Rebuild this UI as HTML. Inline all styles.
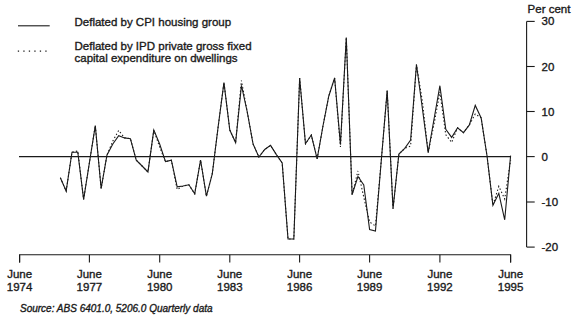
<!DOCTYPE html>
<html><head><meta charset="utf-8"><style>
html,body{margin:0;padding:0;background:#fff;}
body{width:576px;height:322px;overflow:hidden;position:relative;}
svg{position:absolute;left:0;top:0;}
text{font-family:"Liberation Sans",sans-serif;font-size:11.5px;fill:#1a1a1a;stroke:#1a1a1a;stroke-width:0.35px;}
</style></head><body>
<svg width="576" height="322" viewBox="0 0 576 322">
<g stroke="#1a1a1a" stroke-width="1.1" fill="none">
<line x1="19" y1="156.6" x2="510.8" y2="156.6"/>
<polyline points="19.6,262.5 19.6,254.7 510.6,254.7 510.6,262.5"/>
<line x1="19.6" y1="254.7" x2="19.6" y2="262.5"/><line x1="89.4" y1="254.7" x2="89.4" y2="262.5"/><line x1="159.7" y1="254.7" x2="159.7" y2="262.5"/><line x1="229.8" y1="254.7" x2="229.8" y2="262.5"/><line x1="299.6" y1="254.7" x2="299.6" y2="262.5"/><line x1="369.6" y1="254.7" x2="369.6" y2="262.5"/><line x1="439.9" y1="254.7" x2="439.9" y2="262.5"/><line x1="510.6" y1="254.7" x2="510.6" y2="262.5"/>
<line x1="526.6" y1="21.4" x2="526.6" y2="247.1"/>
<line x1="526.6" y1="21.4" x2="534.7" y2="21.4"/><line x1="526.6" y1="66.5" x2="534.7" y2="66.5"/><line x1="526.6" y1="111.5" x2="534.7" y2="111.5"/><line x1="526.6" y1="156.6" x2="534.7" y2="156.6"/><line x1="526.6" y1="202" x2="534.7" y2="202"/><line x1="526.6" y1="247.1" x2="534.7" y2="247.1"/>
<line x1="18" y1="25.8" x2="49.7" y2="25.8"/>
</g>
<g stroke="#1a1a1a" stroke-width="1.1" fill="none" stroke-linejoin="miter">
<polyline points="60.34,177.8 66.16,191.0 71.98,152.2 77.80,151.0 83.62,199.4 89.44,162.5 95.29,125.6 101.14,188.5 106.99,155.0 112.84,141.0 118.69,130.4 124.55,137.9 130.40,138.7 136.25,160.2 142.10,166.0 147.95,172.0 153.80,130.1 159.65,147.0 165.50,161.6 171.34,160.2 177.19,189.5 183.03,186.0 188.88,184.8 194.73,193.7 200.57,160.0 206.42,196.2 212.26,174.0 218.11,127.0 223.95,82.6 229.80,130.0 235.62,142.6 241.44,80.6 247.26,112.0 253.08,144.0 258.90,157.0 264.73,149.5 270.55,145.4 276.37,154.6 282.19,163.0 288.01,239.0 293.83,239.0 299.65,78.0 305.48,143.7 311.31,135.0 317.14,158.8 322.97,126.0 328.80,96.0 334.62,78.0 340.45,147.0 346.28,37.6 352.11,194.7 357.94,171.0 363.77,197.0 369.60,222.0 375.46,226.0 381.32,160.0 387.18,90.6 393.03,208.6 398.89,154.0 404.75,148.4 410.61,146.0 416.47,64.5 422.32,101.0 428.18,152.6 434.04,124.0 439.90,92.0 445.79,134.8 451.68,142.4 457.57,127.8 463.47,132.6 469.36,124.9 475.25,114.0 481.14,117.9 487.03,156.0 492.93,205.3 498.82,186.3 504.71,199.0 510.60,160.0" stroke-dasharray="1.4 2.2"/>
<polyline points="60.34,177.8 66.16,191.0 71.98,152.2 77.80,152.2 83.62,199.4 89.44,162.5 95.29,125.6 101.14,188.5 106.99,155.0 112.84,144.0 118.69,135.7 124.55,137.9 130.40,138.7 136.25,160.2 142.10,166.0 147.95,172.0 153.80,130.1 159.65,144.0 165.50,161.6 171.34,160.2 177.19,186.8 183.03,186.0 188.88,184.8 194.73,193.7 200.57,160.0 206.42,196.2 212.26,174.0 218.11,127.0 223.95,82.6 229.80,130.0 235.62,142.6 241.44,85.4 247.26,112.0 253.08,144.0 258.90,157.0 264.73,149.5 270.55,145.4 276.37,154.6 282.19,163.0 288.01,239.0 293.83,239.0 299.65,78.0 305.48,143.7 311.31,135.0 317.14,158.8 322.97,126.0 328.80,96.0 334.62,78.0 340.45,144.5 346.28,37.6 352.11,194.7 357.94,176.5 363.77,184.9 369.60,229.5 375.46,231.0 381.32,160.0 387.18,90.6 393.03,208.6 398.89,154.0 404.75,148.4 410.61,140.0 416.47,64.5 422.32,108.0 428.18,152.6 434.04,119.0 439.90,85.7 445.79,129.3 451.68,137.4 457.57,127.8 463.47,132.6 469.36,124.9 475.25,105.4 481.14,117.9 487.03,156.0 492.93,205.3 498.82,193.3 504.71,219.8 510.60,155.6"/>
<line x1="17.8" y1="51.1" x2="47.5" y2="51.1" stroke-dasharray="1.3 4.2"/>
</g>
<text x="19.6" y="278" text-anchor="middle">June</text><text x="19.6" y="291.4" text-anchor="middle">1974</text><text x="89.4" y="278" text-anchor="middle">June</text><text x="89.4" y="291.4" text-anchor="middle">1977</text><text x="159.7" y="278" text-anchor="middle">June</text><text x="159.7" y="291.4" text-anchor="middle">1980</text><text x="229.8" y="278" text-anchor="middle">June</text><text x="229.8" y="291.4" text-anchor="middle">1983</text><text x="299.6" y="278" text-anchor="middle">June</text><text x="299.6" y="291.4" text-anchor="middle">1986</text><text x="369.6" y="278" text-anchor="middle">June</text><text x="369.6" y="291.4" text-anchor="middle">1989</text><text x="439.9" y="278" text-anchor="middle">June</text><text x="439.9" y="291.4" text-anchor="middle">1992</text><text x="510.6" y="278" text-anchor="middle">June</text><text x="510.6" y="291.4" text-anchor="middle">1995</text><text x="541.5" y="25.4">30</text><text x="541.5" y="70.5">20</text><text x="541.5" y="115.5">10</text><text x="541.5" y="160.6">0</text><text x="541.5" y="206.0">-10</text><text x="541.5" y="251.1">-20</text>
<text x="74.5" y="25.8">Deflated by CPI housing group</text>
<text x="74.5" y="50.1">Deflated by IPD private gross fixed</text>
<text x="74.5" y="62.3">capital expenditure on dwellings</text>
<text x="527.6" y="13.4">Per cent</text>
<text x="20" y="311.5" style="font-style:italic;font-size:10px">Source: ABS 6401.0, 5206.0 Quarterly data</text>
</svg>
</body></html>
